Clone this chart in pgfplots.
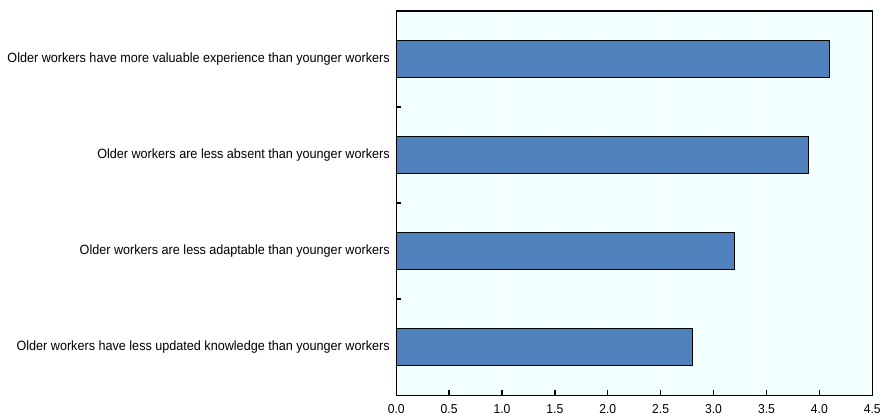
\documentclass[border=0pt]{standalone}
\usepackage{pgfplots}
\pgfplotsset{compat=1.18}
\usepackage{fontspec}
\setmainfont[FakeStretch=0.94]{Liberation Sans}
\definecolor{barblue}{RGB}{79,129,189}
\definecolor{bgcyan}{RGB}{242,255,255}
\begin{document}
\begin{tikzpicture}
\begin{axis}[
  scale only axis,
  width=477bp, height=385bp,
  xbar, bar width=37bp,
  xmin=0, xmax=4.5,
  ymin=-0.5, ymax=3.5,
  y dir=reverse,
  xtick={0,0.5,...,4.5},
  xticklabel style={font=\fontsize{13}{14}\selectfont,/pgf/number format/fixed,/pgf/number format/fixed zerofill,/pgf/number format/precision=1,yshift=-5.5bp},
  /pgf/number format/assume math mode=true,
  ytick={0,1,2,3},
  yticklabels={Older workers have more valuable experience than younger workers,
               Older workers are less absent than younger workers,
               Older workers are less adaptable than younger workers,
               Older workers have less updated knowledge than younger workers},
  yticklabel style={font=\fontsize{13.5}{15}\selectfont, xshift=-3bp},
  minor ytick={0.5,1.5,2.5},
  major tick length=5bp,
  minor tick length=5bp,
  ytick style={draw=none},
  minor y tick style={draw=black, line width=1.6pt},
  xtick style={line width=1.4pt, black},
  tick align=inside,
  xtick pos=bottom, ytick pos=left,
  xmajorgrids, yminorgrids,
  grid style={white, line width=0.6pt},
  minor grid style={white, line width=0.6pt},
  axis background/.style={fill=bgcyan},
  axis line style={black, line width=1.2pt},
  clip=false,
]
\addplot[fill=barblue, draw=black, line width=1.1pt] coordinates {
  (4.1,0) (3.9,1) (3.2,2) (2.8,3)
};
\end{axis}
\path ([yshift=11bp]current axis.north east) ++(8bp,0) circle (0pt);
\path ([xshift=-397bp]current axis.south west) circle (0pt);
\end{tikzpicture}
\end{document}
